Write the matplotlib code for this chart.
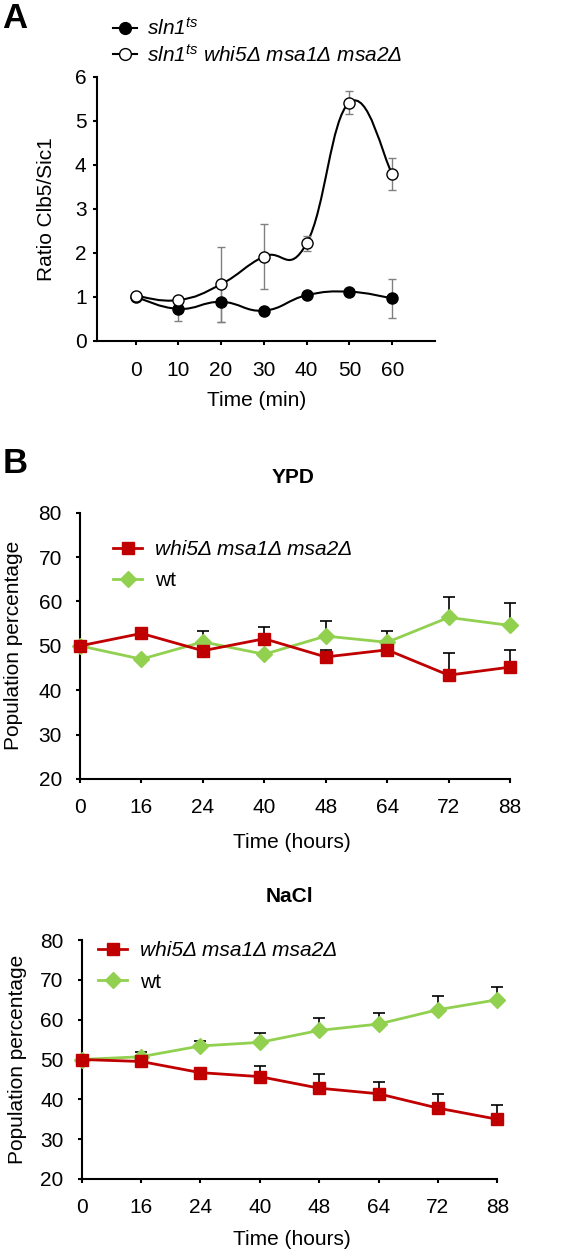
import numpy as np
import matplotlib.pyplot as plt
from matplotlib.path import Path
from matplotlib.patches import PathPatch
from matplotlib.lines import Line2D

plt.rcParams.update({
    'font.family': 'Liberation Sans',
    'font.size': 15,
    'mathtext.fontset': 'custom',
    'mathtext.rm': 'Liberation Sans',
    'mathtext.it': 'Liberation Sans:italic',
    'axes.linewidth': 1.5,
})

# Panel A: Clb5/Sic1 ratio
time_min = [0, 10, 20, 30, 40, 50, 60]
sln1 = [1.00, 0.73, 0.89, 0.69, 1.04, 1.12, 0.97]
sln1_err = [0.0, 0.27, 0.45, 0.0, 0.0, 0.0, 0.45]
mutant = [1.03, 0.93, 1.29, 1.92, 2.22, 5.42, 3.80]
mutant_err = [0.0, 0.0, 0.85, 0.74, 0.17, 0.26, 0.36]

# Panel B: population percentage
time_hours = ['0', '16', '24', '40', '48', '64', '72', '88']
ypd_mutant = [50.0, 52.8, 48.9, 51.6, 47.5, 49.1, 43.4, 45.2]
ypd_mutant_err = [0, 0, 0, 2.7, 1.5, 0, 5.1, 3.9]
ypd_wt = [50.0, 47.0, 50.9, 48.1, 52.2, 50.8, 56.4, 54.6]
ypd_wt_err = [0, 0, 2.5, 0, 3.4, 2.6, 4.5, 5.0]
nacl_mutant = [50.0, 49.5, 46.7, 45.7, 42.8, 41.4, 37.8, 35.0]
nacl_mutant_err = [0, 0, 0, 2.7, 3.5, 3.0, 3.6, 3.6]
nacl_wt = [50.0, 50.7, 53.4, 54.3, 57.3, 58.9, 62.5, 65.0]
nacl_wt_err = [0, 1.1, 1.3, 2.3, 3.1, 2.7, 3.5, 3.1]

RED = '#C00000'
GREEN = '#92D050'
W, H = 566, 1256


def fx(px):
    return px / W


def fy(py):
    return 1 - py / H


def smooth_path(x, y, k=0.22):
    # Excel-like smoothed line as cubic Bezier segments
    x = np.asarray(x, float)
    y = np.asarray(y, float)
    px = np.r_[x[0], x, x[-1]]
    py = np.r_[y[0], y, y[-1]]
    verts = [(x[0], y[0])]
    codes = [Path.MOVETO]
    for i in range(len(x) - 1):
        c1 = (x[i] + k * (px[i + 2] - px[i]), y[i] + k * (py[i + 2] - py[i]))
        c2 = (x[i + 1] - k * (px[i + 3] - px[i + 1]), y[i + 1] - k * (py[i + 3] - py[i + 1]))
        verts += [c1, c2, (x[i + 1], y[i + 1])]
        codes += [Path.CURVE4] * 3
    return Path(verts, codes)


def style_axes(ax, xpad, ypad):
    ax.spines['top'].set_visible(False)
    ax.spines['right'].set_visible(False)
    ax.tick_params(direction='out', length=3, width=1.5, colors='black')
    ax.tick_params(axis='x', pad=xpad)
    ax.tick_params(axis='y', pad=ypad)


fig = plt.figure(figsize=(W / 100, H / 100), dpi=100)

# ---------------- Panel A ----------------
axA = fig.add_axes([fx(97), fy(341), (435 - 97) / W, (341 - 77) / H])
style_axes(axA, 11.5, 4.5)
axA.set_xlim(-9, 70)
axA.set_ylim(0, 6)
axA.set_xticks(time_min)
axA.set_yticks(range(7))

axA.add_patch(PathPatch(smooth_path(time_min, sln1), fill=False, ec='black', lw=1.5, zorder=2))
axA.add_patch(PathPatch(smooth_path(time_min, mutant), fill=False, ec='black', lw=1.5, zorder=2))
axA.errorbar(time_min, sln1, yerr=sln1_err, fmt='none', ecolor='#808080',
             elinewidth=1, capsize=3, zorder=3)
axA.errorbar(time_min, mutant, yerr=mutant_err, fmt='none', ecolor='#808080',
             elinewidth=1, capsize=3, zorder=3)
axA.plot(time_min, sln1, 'o', color='black', ms=8, zorder=4)
axA.plot(time_min, mutant, 'o', mfc='white', mec='black', mew=1, ms=8, zorder=5)

axA.set_ylabel('Ratio Clb5/Sic1', va='center')
axA.yaxis.set_label_coords(-0.148, 0.5)
axA.set_xlabel('Time (min)', va='center')
axA.xaxis.set_label_coords(0.473, -0.227)

handlesA = [Line2D([], [], color='black', lw=1.5, marker='o', ms=8.5),
            Line2D([], [], color='black', lw=1.5, marker='o', ms=8.5, mfc='white')]
legA = fig.legend(handlesA, [r'sln1$^{ts}$', r'sln1$^{ts}$ whi5Δ msa1Δ msa2Δ'],
                  loc='upper left', bbox_to_anchor=(fx(113), fy(17)), frameon=False,
                  borderpad=0, borderaxespad=0, handlelength=1.15, handletextpad=0.5,
                  labelspacing=0.22, prop={'style': 'italic', 'size': 15})

fig.text(fx(2), fy(2), 'A', fontsize=25, fontweight='bold', ha='left', va='top')
fig.text(fx(3), fy(447), 'B', fontsize=25, fontweight='bold', ha='left', va='top')


# ---------------- Panel B ----------------
def growth_panel(rect, title, title_y, mut, mut_err, wt, wt_err, leg_xy, xlab_xy):
    ax = fig.add_axes(rect)
    style_axes(ax, 11, 10)
    pos = np.arange(len(time_hours))
    ax.set_xlim(0, 7)
    ax.set_ylim(20, 80)
    ax.set_xticks(pos, time_hours)
    ax.set_yticks(range(20, 81, 10))
    ax.errorbar(pos, wt, yerr=[np.zeros(len(wt)), wt_err], fmt='none', ecolor='black',
                elinewidth=1.2, capthick=1.2, capsize=4, zorder=2, clip_on=False)
    ax.errorbar(pos, mut, yerr=[np.zeros(len(mut)), mut_err], fmt='none', ecolor='black',
                elinewidth=1.2, capthick=1.2, capsize=4, zorder=2, clip_on=False)
    ax.plot(pos, wt, color=GREEN, lw=2, marker='D', ms=8.5, zorder=3, clip_on=False)
    ax.plot(pos, mut, color=RED, lw=2, marker='s', ms=9, zorder=4, clip_on=False)
    ax.text(title_y[0], title_y[1], title, transform=ax.transAxes, ha='center',
            va='center', fontweight='bold')
    ax.set_ylabel('Population percentage', va='center')
    ax.yaxis.set_label_coords(-0.155, 0.5)
    ax.set_xlabel('Time (hours)', va='center')
    ax.xaxis.set_label_coords(*xlab_xy)
    handles = [Line2D([], [], color=RED, lw=2, marker='s', ms=9),
               Line2D([], [], color=GREEN, lw=2, marker='D', ms=8.5)]
    leg = fig.legend(handles, ['whi5Δ msa1Δ msa2Δ', 'wt'], loc='upper left',
                     bbox_to_anchor=leg_xy, frameon=False, borderpad=0,
                     borderaxespad=0, handlelength=1.4, handletextpad=0.6,
                     labelspacing=0.6)
    leg.get_texts()[0].set_fontstyle('italic')
    return ax


axY = growth_panel([fx(80), fy(779), 430 / W, (779 - 512.7) / H], 'YPD', (0.495, 1.134),
                   ypd_mutant, ypd_mutant_err, ypd_wt, ypd_wt_err,
                   (fx(113), fy(540)), (0.493, -0.240))
axN = growth_panel([fx(81.7), fy(1179), 415.6 / W, 239 / H], 'NaCl', (0.501, 1.18),
                   nacl_mutant, nacl_mutant_err, nacl_wt, nacl_wt_err,
                   (fx(98), fy(941)), (0.506, -0.255))

fig.savefig('out.png', dpi=100)
